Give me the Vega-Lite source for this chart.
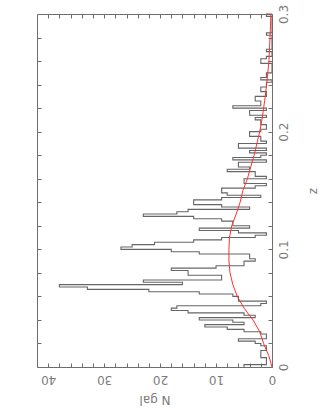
{
  "$schema": "https://vega.github.io/schema/vega-lite/v6.json",
  "width": 235,
  "height": 353,
  "autosize": "none",
  "padding": {"left": 37, "top": 14, "right": 49, "bottom": 42},
  "config": {
    "view": {"stroke": "#6e6e6e", "strokeWidth": 1},
    "axis": {"grid": false, "domain": false, "tickColor": "#6e6e6e", "labelColor": "#7a7a7a", "titleColor": "#7a7a7a", "labelFont": "DejaVu Sans", "titleFont": "DejaVu Sans", "labelFontSize": 12, "titleFontSize": 12, "titleFontWeight": "normal", "labelOverlap": false, "labelFlush": false}
  },
  "datasets": {
    "hist": [
      {"z":0.000,"n":5},{"z":0.002,"n":1},{"z":0.004,"n":1},{"z":0.006,"n":1},{"z":0.008,"n":2},{"z":0.010,"n":2},{"z":0.012,"n":2},{"z":0.014,"n":1},{"z":0.016,"n":1},{"z":0.018,"n":2},
      {"z":0.020,"n":3},{"z":0.022,"n":6},{"z":0.024,"n":1},{"z":0.026,"n":1},{"z":0.028,"n":2},{"z":0.030,"n":5},{"z":0.032,"n":8},{"z":0.034,"n":12},{"z":0.036,"n":5},{"z":0.038,"n":7},
      {"z":0.040,"n":13},{"z":0.042,"n":3},{"z":0.044,"n":5},{"z":0.046,"n":15},{"z":0.048,"n":18},{"z":0.050,"n":17},{"z":0.052,"n":2},{"z":0.054,"n":1},{"z":0.056,"n":6},{"z":0.058,"n":6},
      {"z":0.060,"n":7},{"z":0.062,"n":13},{"z":0.064,"n":22},{"z":0.066,"n":33},{"z":0.068,"n":38},{"z":0.070,"n":16},{"z":0.072,"n":23},{"z":0.074,"n":9},{"z":0.076,"n":9},{"z":0.078,"n":15},
      {"z":0.080,"n":15},{"z":0.082,"n":18},{"z":0.084,"n":10},{"z":0.086,"n":5},{"z":0.088,"n":5},{"z":0.090,"n":3},{"z":0.092,"n":4},{"z":0.094,"n":4},{"z":0.096,"n":13},{"z":0.098,"n":18},
      {"z":0.100,"n":27},{"z":0.102,"n":25},{"z":0.104,"n":21},{"z":0.106,"n":14},{"z":0.108,"n":9},{"z":0.110,"n":3},{"z":0.112,"n":1},{"z":0.114,"n":6},{"z":0.116,"n":13},{"z":0.118,"n":4},
      {"z":0.120,"n":7},{"z":0.122,"n":7},{"z":0.124,"n":9},{"z":0.126,"n":14},{"z":0.128,"n":23},{"z":0.130,"n":17},{"z":0.132,"n":15},{"z":0.134,"n":4},{"z":0.136,"n":9},{"z":0.138,"n":14},
      {"z":0.140,"n":14},{"z":0.142,"n":9},{"z":0.144,"n":2},{"z":0.146,"n":8},{"z":0.148,"n":9},{"z":0.150,"n":9},{"z":0.152,"n":3},{"z":0.154,"n":1},{"z":0.156,"n":5},{"z":0.158,"n":5},
      {"z":0.160,"n":1},{"z":0.162,"n":3},{"z":0.164,"n":3},{"z":0.166,"n":8},{"z":0.168,"n":4},{"z":0.170,"n":6},{"z":0.172,"n":6},{"z":0.174,"n":1},{"z":0.176,"n":7},{"z":0.178,"n":2},
      {"z":0.180,"n":1},{"z":0.182,"n":4},{"z":0.184,"n":1},{"z":0.186,"n":6},{"z":0.188,"n":6},{"z":0.190,"n":1},{"z":0.192,"n":2},{"z":0.194,"n":2},{"z":0.196,"n":4},{"z":0.198,"n":4},
      {"z":0.200,"n":2},{"z":0.202,"n":1},{"z":0.204,"n":1},{"z":0.206,"n":2},{"z":0.208,"n":2},{"z":0.210,"n":3},{"z":0.212,"n":1},{"z":0.214,"n":4},{"z":0.216,"n":4},{"z":0.218,"n":1},
      {"z":0.220,"n":7},{"z":0.222,"n":2},{"z":0.224,"n":2},{"z":0.226,"n":3},{"z":0.228,"n":3},{"z":0.230,"n":1},{"z":0.232,"n":1},{"z":0.234,"n":2},{"z":0.236,"n":2},{"z":0.238,"n":1},
      {"z":0.240,"n":1},{"z":0.242,"n":0},{"z":0.244,"n":2},{"z":0.246,"n":1},{"z":0.248,"n":1},{"z":0.250,"n":0},{"z":0.252,"n":0},{"z":0.254,"n":0},{"z":0.256,"n":0},{"z":0.258,"n":2},
      {"z":0.260,"n":2},{"z":0.262,"n":1},{"z":0.264,"n":0},{"z":0.266,"n":0},{"z":0.268,"n":1},{"z":0.270,"n":0},{"z":0.272,"n":0},{"z":0.274,"n":0},{"z":0.276,"n":0},{"z":0.278,"n":0},
      {"z":0.280,"n":0},{"z":0.282,"n":1},{"z":0.284,"n":0},{"z":0.286,"n":0},{"z":0.288,"n":0},{"z":0.290,"n":0},{"z":0.292,"n":0},{"z":0.294,"n":0},{"z":0.296,"n":0},{"z":0.298,"n":1},
      {"z":0.300,"n":0}
    ],
    "model": [
      {"z":0.000,"n":0},{"z":0.010,"n":0.6},{"z":0.015,"n":1.07},{"z":0.020,"n":1.5},{"z":0.030,"n":2.2},{"z":0.040,"n":3.4},{"z":0.050,"n":5.0},{"z":0.060,"n":6.2},{"z":0.070,"n":7.0},{"z":0.080,"n":7.5},
      {"z":0.090,"n":7.7},{"z":0.100,"n":7.7},{"z":0.110,"n":7.6},{"z":0.120,"n":7.2},{"z":0.130,"n":6.4},{"z":0.140,"n":5.7},{"z":0.150,"n":5.2},{"z":0.160,"n":4.4},{"z":0.170,"n":3.8},{"z":0.180,"n":3.2},
      {"z":0.190,"n":2.7},{"z":0.200,"n":2.2},{"z":0.210,"n":1.8},{"z":0.220,"n":1.5},{"z":0.230,"n":1.2},{"z":0.240,"n":0.95},{"z":0.250,"n":0.75},{"z":0.260,"n":0.55},{"z":0.270,"n":0.45},{"z":0.280,"n":0.35},
      {"z":0.290,"n":0.27},{"z":0.300,"n":0.2}
    ]
  },
  "layer": [
    {
      "data": {"name": "hist"},
      "mark": {"type": "line", "interpolate": "step-before", "color": "#666666", "strokeWidth": 1.1},
      "encoding": {
        "x": {"field": "n", "type": "quantitative", "scale": {"domain": [0, 42], "reverse": true, "nice": false, "zero": false},
          "axis": {"orient": "bottom", "values": [0,2,4,6,8,10,12,14,16,18,20,22,24,26,28,30,32,34,36,38,40],
            "labelExpr": "datum.value % 10 === 0 ? datum.label : ''", "format": "d", "labelAngle": 180,
            "tickSize": -4, "labelPadding": 9, "title": "N gal", "titleAngle": 180, "titlePadding": 19}},
        "y": {"field": "z", "type": "quantitative", "scale": {"domain": [0, 0.3], "nice": false, "zero": false},
          "axis": {"orient": "right", "values": [0,0.02,0.04,0.06,0.08,0.1,0.12,0.14,0.16,0.18,0.2,0.22,0.24,0.26,0.28,0.3],
            "labelExpr": "abs(datum.value*10 - round(datum.value*10)) < 0.001 ? datum.label : ''", "format": ".1~f", "labelAngle": -90,
            "tickSize": -4, "labelPadding": 10, "title": "z", "titleAngle": -90, "titlePadding": 30}},
        "order": {"field": "z", "type": "quantitative"}
      }
    },
    {
      "data": {"name": "model"},
      "mark": {"type": "line", "color": "#ff3030", "strokeWidth": 1},
      "encoding": {
        "x": {"field": "n", "type": "quantitative", "scale": {"domain": [0, 42], "reverse": true, "nice": false, "zero": false},
          "axis": {"orient": "top", "values": [0,2,4,6,8,10,12,14,16,18,20,22,24,26,28,30,32,34,36,38,40], "labels": false, "tickSize": -4, "title": null}},
        "y": {"field": "z", "type": "quantitative", "scale": {"domain": [0, 0.3], "nice": false, "zero": false},
          "axis": {"orient": "left", "values": [0,0.02,0.04,0.06,0.08,0.1,0.12,0.14,0.16,0.18,0.2,0.22,0.24,0.26,0.28,0.3], "labels": false, "tickSize": -4, "title": null}},
        "order": {"field": "z", "type": "quantitative"}
      }
    }
  ],
  "resolve": {"axis": {"x": "independent", "y": "independent"}}
}
